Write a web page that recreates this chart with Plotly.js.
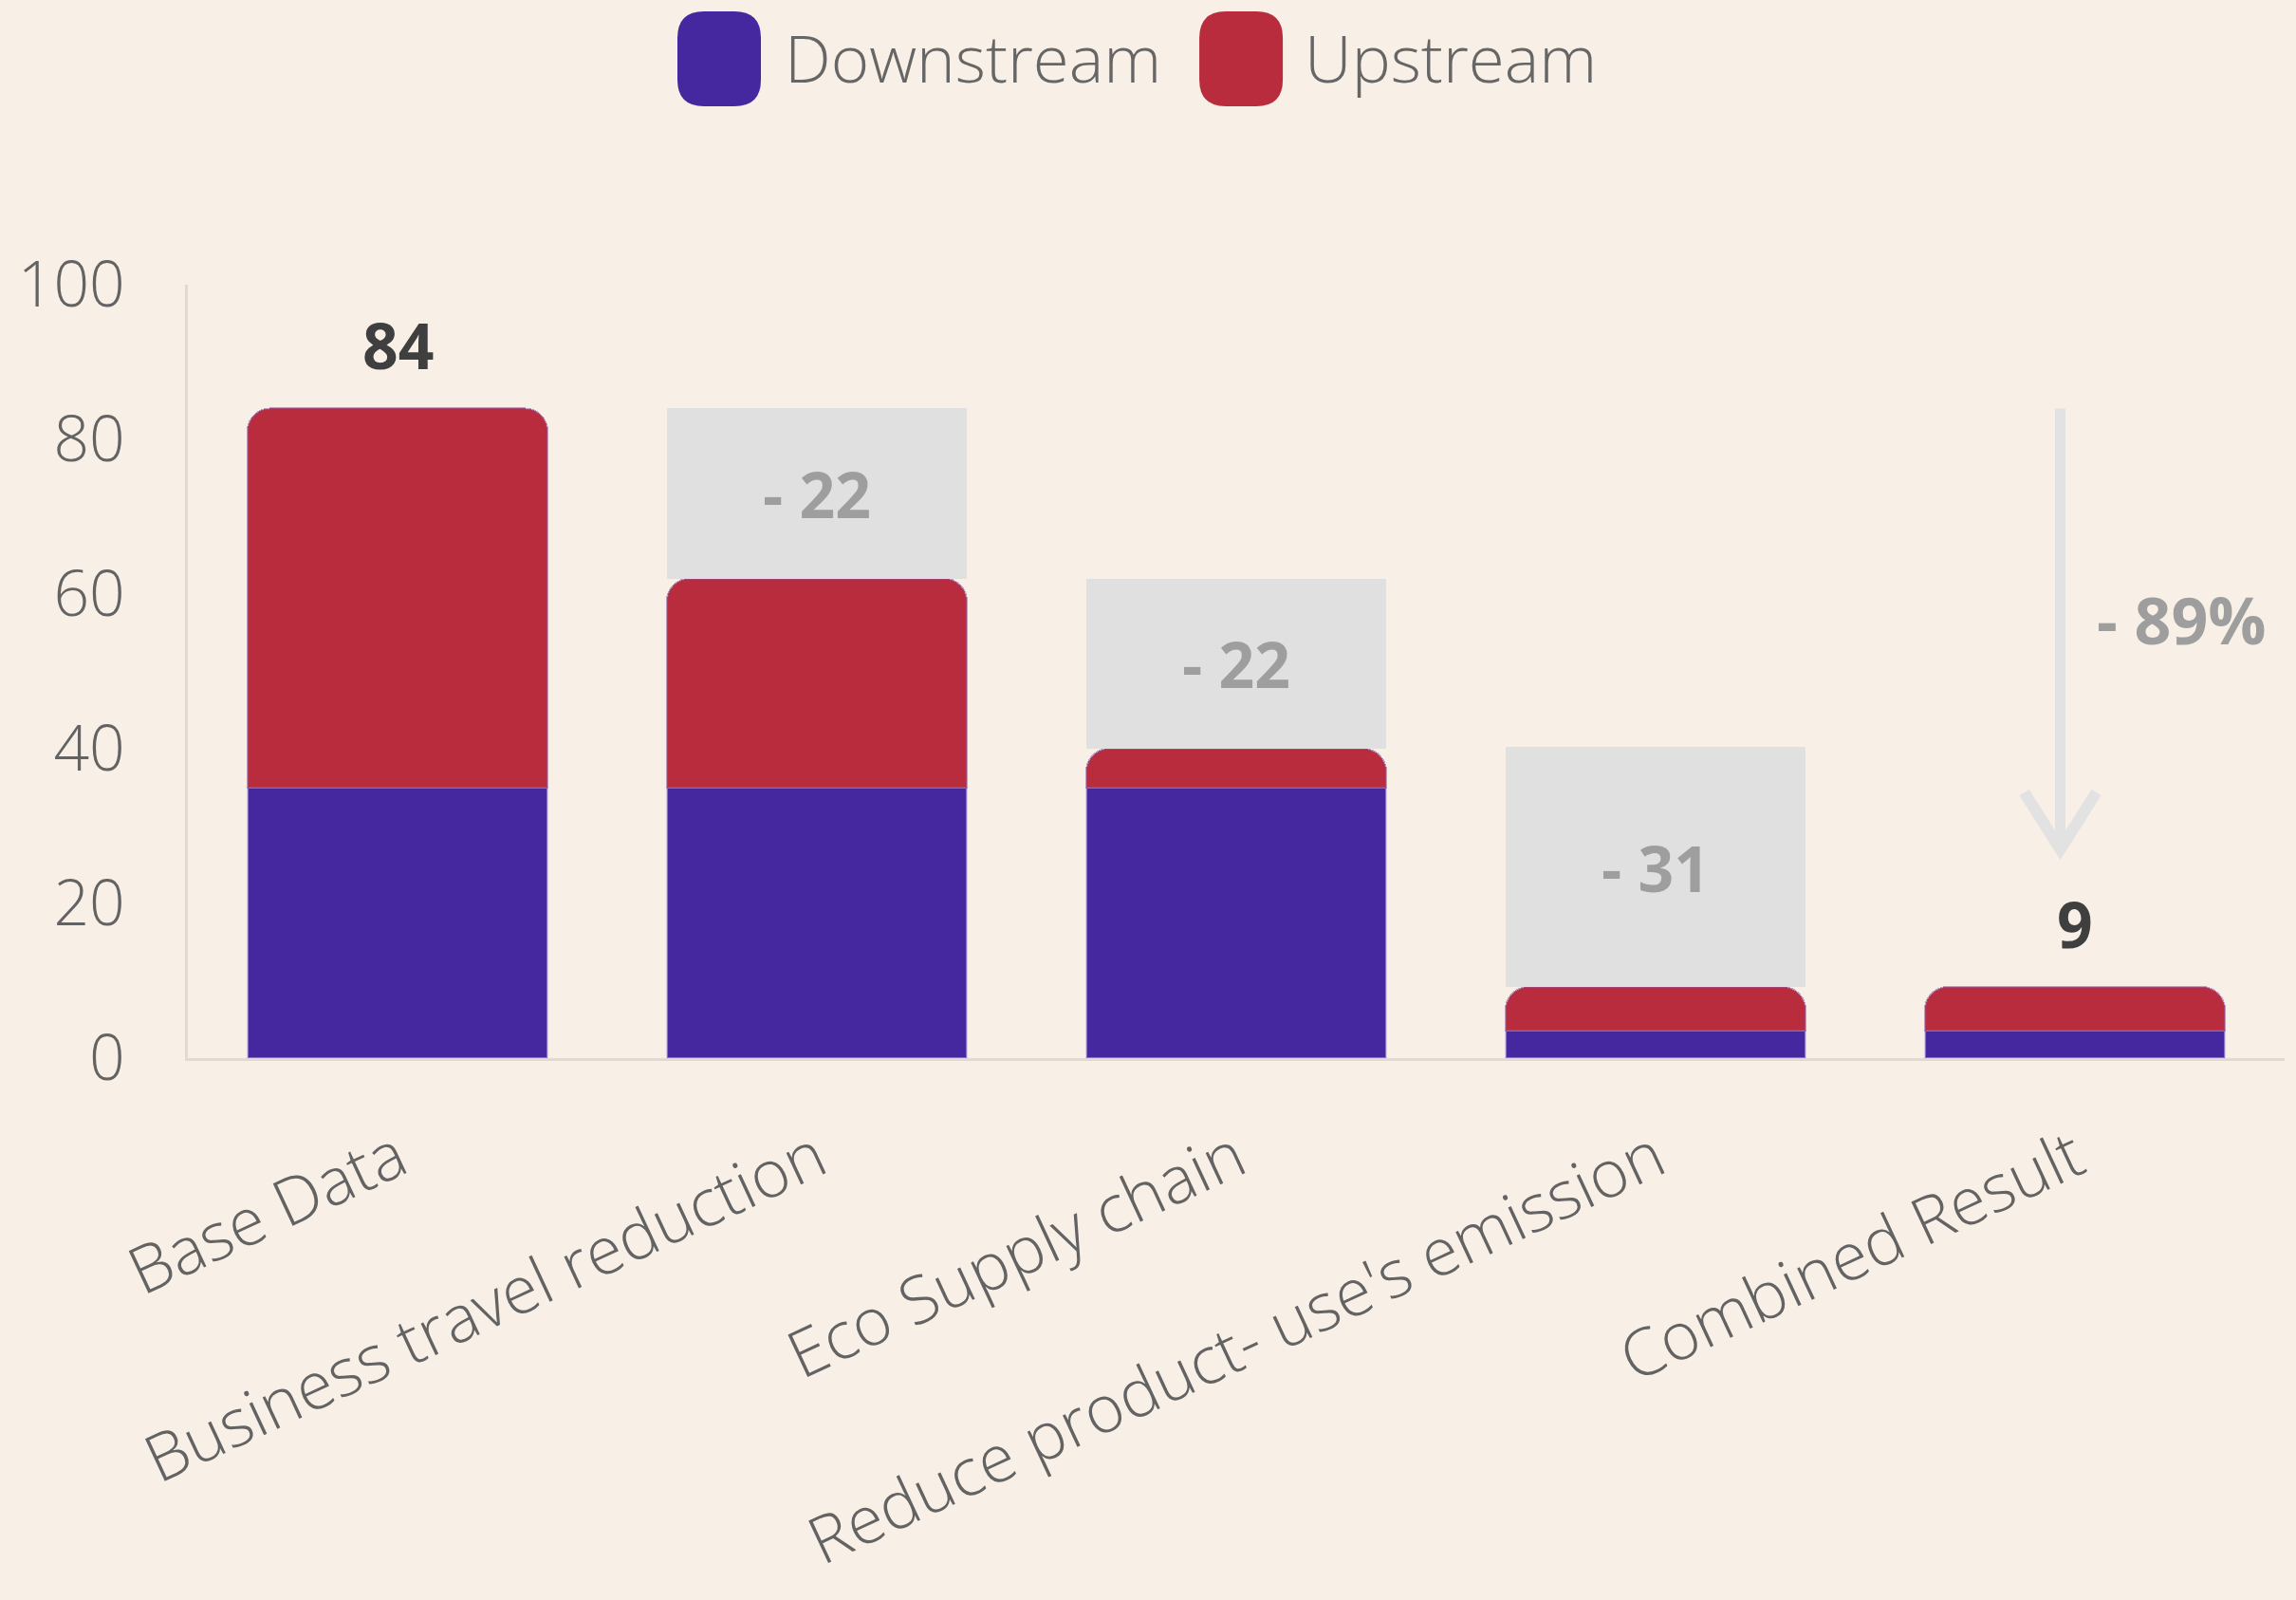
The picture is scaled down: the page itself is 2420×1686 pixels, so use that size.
<!DOCTYPE html>
<html>
<head>
<meta charset="utf-8">
<script src="https://cdn.plot.ly/plotly-3.0.1.min.js"></script>
<style>
  html, body { margin: 0; padding: 0; background: #F8F0E6; }
  #chart { width: 2420px; height: 1686px; }
</style>
</head>
<body>
<div id="chart"></div>
<script>
// ---- data ----
const categories = ['Base Data', 'Business travel reduction', 'Eco Supply chain', "Reduce product- use's emission", 'Combined Result'];
const seriesNames = ['Downstream', 'Upstream'];
const downstream = [35, 35, 35, 3.6, 3.6];
const upstream = [49, 27, 5, 5.6, 5.6];
const reductions = [null, 22, 22, 31, null];
const yTickValues = [0, 20, 40, 60, 80, 100];
const totalLabelIdx = [0, 4];

// ---- styles / positions ----
const BG = '#F8F0E6';
const PURPLE = '#45279F';
const RED = '#B82C3E';
const GHOST = '#E0E0E0';
const GHOST_TEXT = '#9E9E9E';
const AXIS_TEXT = '#636363';
const FONT = '"Open Sans", "Noto Sans", sans-serif';
const arrowX = 3.965;
const arrowTipY = 27;
const pctLabelY = 56.8;

const totals = downstream.map((d, i) => d + upstream[i]);
const ghostBase = reductions.map((r, i) => r == null ? null : totals[i]);
const pct = Math.round((1 - totals[totals.length - 1] / totals[0]) * 100);

const traces = [
  {
    type: 'bar', name: seriesNames[0], x: categories, y: downstream,
    marker: { color: PURPLE, cornerradius: 24, line: { color: 'rgba(190,175,235,0.55)', width: 2 } },
    hoverinfo: 'skip'
  },
  {
    type: 'bar', name: seriesNames[1], x: categories, y: upstream,
    marker: { color: RED, line: { color: 'rgba(150,90,160,0.55)', width: 2 } },
    hoverinfo: 'skip'
  },
  {
    type: 'bar', name: 'reduction', x: categories, y: reductions, base: ghostBase,
    xaxis: 'x', yaxis: 'y2',
    marker: { color: GHOST, cornerradius: 0 },
    text: reductions.map(r => r == null ? '' : '- ' + r),
    textposition: 'inside', insidetextanchor: 'middle',
    textfont: { family: FONT, size: 66, color: GHOST_TEXT, weight: 700 },
    constraintext: 'none', showlegend: false, hoverinfo: 'skip'
  }
];

const annotations = [];
totalLabelIdx.forEach(i => {
  annotations.push({
    x: categories[i], y: totals[i], xref: 'x', yref: 'y',
    text: String(Math.round(totals[i])), showarrow: false,
    yanchor: 'bottom', yshift: 20,
    font: { family: FONT, size: 66, color: '#3F3F3F', weight: 700 }
  });
});
annotations.push({
  x: arrowX, y: pctLabelY, xref: 'x', yref: 'y',
  text: '- ' + pct + '%', showarrow: false, xanchor: 'left', xshift: 36,
  font: { family: FONT, size: 68, color: GHOST_TEXT, weight: 700 }
});

// custom legend (large rounded swatches)
const legendItems = [
  { name: seriesNames[0], color: PURPLE, sx: 0.2534, tx: 0.2835 },
  { name: seriesNames[1], color: RED, sx: 0.5023, tx: 0.5315 }
];
const shapes = [];
const swatchPath = 'M -44,-22 L -44,22 Q -44,50 -16,50 L 16,50 Q 44,50 44,22 L 44,-22 Q 44,-50 16,-50 L -16,-50 Q -44,-50 -44,-22 Z';
legendItems.forEach(it => {
  shapes.push({
    type: 'path', xref: 'paper', yref: 'paper',
    xsizemode: 'pixel', ysizemode: 'pixel',
    xanchor: it.sx, yanchor: 1.292,
    path: swatchPath, fillcolor: it.color, line: { width: 0 }, layer: 'above'
  });
  annotations.push({
    x: it.tx, y: 1.294, xref: 'paper', yref: 'paper',
    text: it.name, showarrow: false, xanchor: 'left', yanchor: 'middle',
    font: { family: FONT, size: 69, color: '#666666', weight: 300 }
  });
});

// reduction arrow
shapes.push({
  type: 'line', xref: 'x', yref: 'y',
  x0: arrowX, x1: arrowX, y0: totals[0], y1: arrowTipY,
  line: { color: '#E2E2E2', width: 11 }, layer: 'above'
});
shapes.push({
  type: 'path', xref: 'x', yref: 'y',
  xsizemode: 'pixel', ysizemode: 'pixel',
  xanchor: arrowX, yanchor: arrowTipY,
  path: 'M -38,60 L 0,0 L 38,60',
  line: { color: '#E2E2E2', width: 12 }, layer: 'above'
});

const layout = {
  width: 2420, height: 1686,
  paper_bgcolor: BG, plot_bgcolor: BG,
  margin: { l: 198, r: 12, t: 300, b: 571 },
  barmode: 'stack', bargap: 0.285,
  showlegend: false,
  font: { family: FONT, size: 66, color: AXIS_TEXT },
  xaxis: {
    type: 'category', showline: true, linecolor: '#E2DAD0', linewidth: 3,
    ticks: '', showgrid: false, zeroline: false, automargin: false,
    tickangle: -25, ticklabelstandoff: 36,
    tickfont: { family: FONT, size: 69, color: AXIS_TEXT, weight: 300 }
  },
  yaxis: {
    range: [0, 100], tickvals: yTickValues, showline: true, linecolor: '#E2DAD0', linewidth: 3,
    ticks: '', showgrid: false, zeroline: false, ticklabelstandoff: 50,
    tickfont: { family: FONT, size: 66, color: AXIS_TEXT, weight: 300 }
  },
  yaxis2: {
    range: [0, 100], overlaying: 'y', visible: false, showgrid: false, zeroline: false
  },
  shapes: shapes,
  annotations: annotations
};

Plotly.newPlot('chart', traces, layout, { staticPlot: true, displayModeBar: false });
</script>
</body>
</html>
